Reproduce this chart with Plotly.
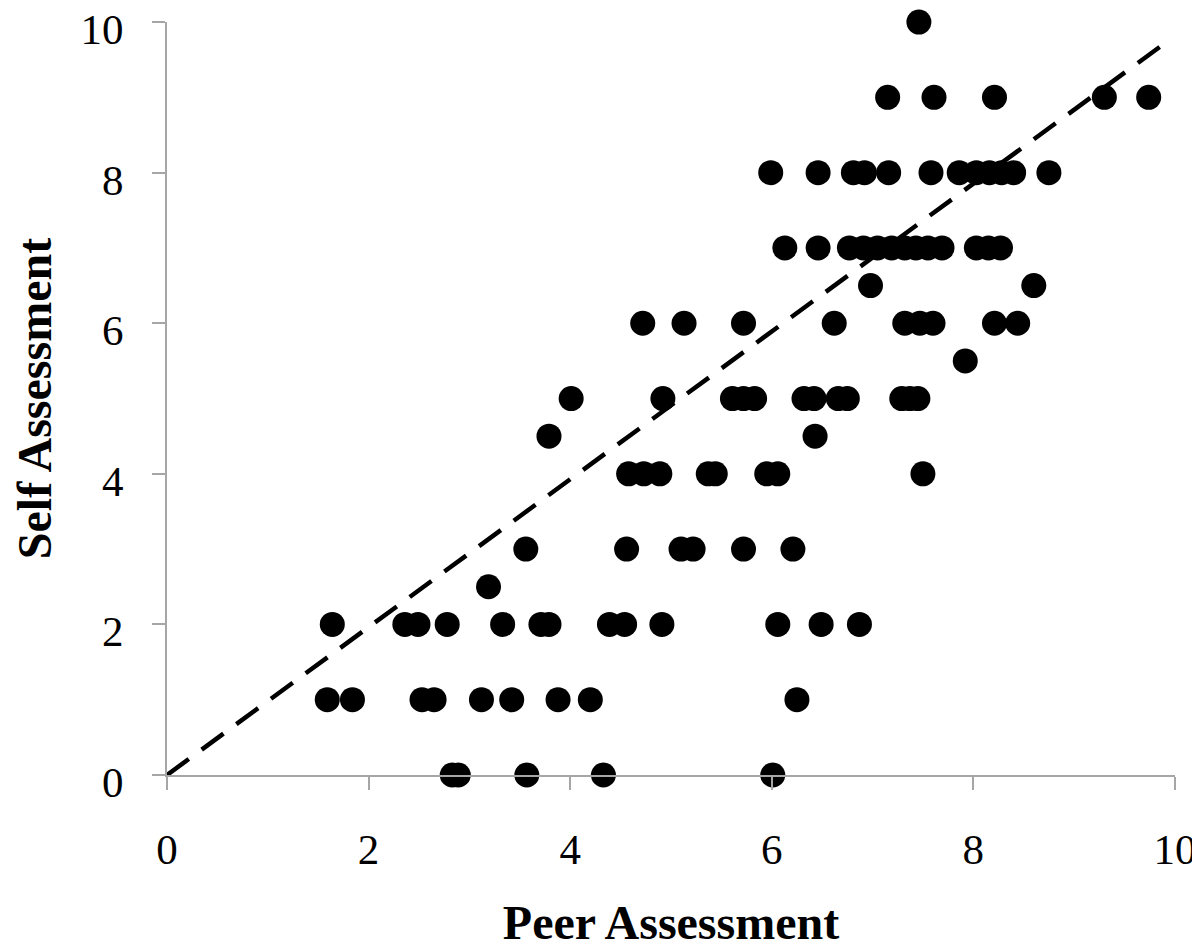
import plotly.graph_objects as go

# Data, grouped by Self Assessment score
peer_y0 = [2.83, 2.89, 3.57, 4.33, 6.01]
peer_y1 = [1.59, 1.84, 2.53, 2.65, 3.12, 3.42, 3.88, 4.20, 6.25]
peer_y2 = [1.64, 2.36, 2.49, 2.78, 3.33, 3.71, 3.79, 4.39, 4.54, 4.91, 6.06, 6.49, 6.87]
peer_y2_5 = [3.19]
peer_y3 = [3.56, 4.56, 5.10, 5.22, 5.72, 6.21]
peer_y4 = [4.58, 4.73, 4.89, 5.37, 5.44, 5.95, 6.06, 7.50]
peer_y4_5 = [3.79, 6.43]
peer_y5 = [4.01, 4.92, 5.61, 5.72, 5.83, 6.32, 6.42, 6.66, 6.75, 7.29, 7.37, 7.45]
peer_y5_5 = [7.92]
peer_y6 = [4.72, 5.13, 5.72, 6.62, 7.32, 7.47, 7.60, 8.21, 8.44]
peer_y6_5 = [6.98, 8.60]
peer_y7 = [6.13, 6.46, 6.77, 6.91, 7.05, 7.19, 7.32, 7.43, 7.55, 7.69, 8.03, 8.15, 8.27]
peer_y8 = [5.99, 6.46, 6.81, 6.92, 7.16, 7.58, 7.86, 8.03, 8.16, 8.28, 8.40, 8.75]
peer_y9 = [7.15, 7.61, 8.21, 9.30, 9.74]
peer_y10 = [7.46]

groups = [
    (0, peer_y0), (1, peer_y1), (2, peer_y2), (2.5, peer_y2_5), (3, peer_y3),
    (4, peer_y4), (4.5, peer_y4_5), (5, peer_y5), (5.5, peer_y5_5), (6, peer_y6),
    (6.5, peer_y6_5), (7, peer_y7), (8, peer_y8), (9, peer_y9), (10, peer_y10),
]
peer = []
self_ = []
for s, xs in groups:
    for p in xs:
        peer.append(p)
        self_.append(s)

# Dashed reference line endpoints
line_x = [0, 9.87]
line_y = [0, 9.69]

x_ticks = [0, 2, 4, 6, 8, 10]
y_ticks = [0, 2, 4, 6, 8, 10]

fig = go.Figure()
fig.add_trace(go.Scatter(
    x=line_x, y=line_y, mode="lines",
    line=dict(color="black", width=4.5, dash="27px,16px"),
    hoverinfo="skip", showlegend=False,
))
fig.add_trace(go.Scatter(
    x=peer, y=self_, mode="markers",
    marker=dict(color="black", size=25, line=dict(width=0)),
    cliponaxis=False, showlegend=False,
))

tickfont = dict(family="Liberation Serif", size=43, color="black")
titlefont = dict(family="Liberation Serif", size=48, color="black")

fig.update_layout(
    width=1200, height=946,
    margin=dict(l=159, r=33, t=14, b=179),
    plot_bgcolor="white", paper_bgcolor="white",
    xaxis=dict(
        range=[0, 10.001], tickvals=x_ticks, ticktext=[str(v) for v in x_ticks],
        showgrid=False, zeroline=False, showline=True, linecolor="#a6a6a6", linewidth=2,
        ticks="outside", ticklen=13, tickwidth=2, tickcolor="#a6a6a6",
        tickfont=tickfont, ticklabelstandoff=22, automargin=False,
        ticklabeloverflow="allow",
        title=dict(text="<b>Peer Assessment</b>", font=titlefont, standoff=34),
    ),
    yaxis=dict(
        range=[0, 10.001], tickvals=y_ticks, ticktext=[str(v) for v in y_ticks],
        showgrid=False, zeroline=False, showline=True, linecolor="#a6a6a6", linewidth=2,
        ticks="outside", ticklen=13, tickwidth=2, tickcolor="#a6a6a6",
        tickfont=tickfont, ticklabelstandoff=20, ticklabelshift=7, automargin=False,
        ticklabeloverflow="allow",
        title=dict(text="<b>Self Assessment</b>", font=titlefont, standoff=40),
    ),
)

fig.write_html("out.html")
